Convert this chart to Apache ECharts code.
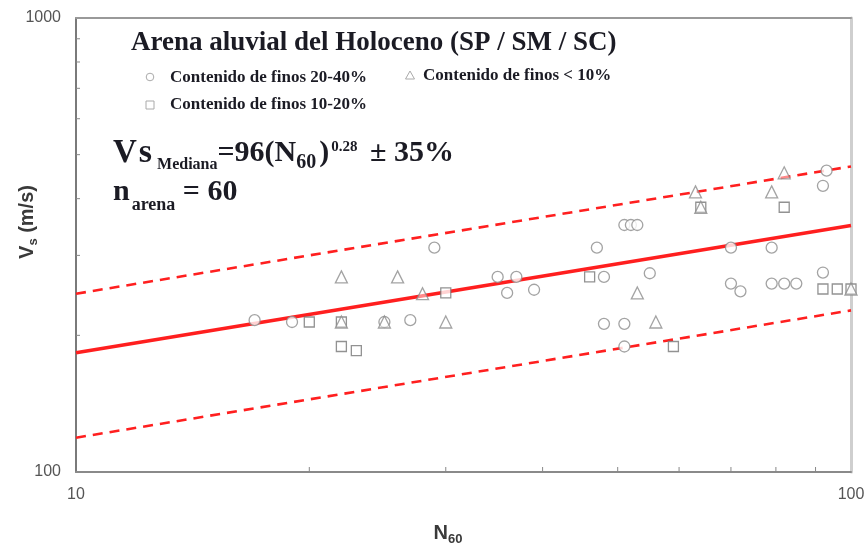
<!DOCTYPE html>
<html><head><meta charset="utf-8">
<script src="https://cdn.jsdelivr.net/npm/echarts@6/dist/echarts.min.js"></script>
<style>html,body{margin:0;padding:0;background:#fff}#c{width:866px;height:551px}</style>
</head><body><div id="c"></div>
<script>
// ---- data ----
const xTickLabels = [10, 100];
const yTickLabels = [100, 1000];
const xMinorTicks = [20, 30, 40, 50, 60, 70, 80, 90];
const yMinorTicks = [200, 300, 400, 500, 600, 700, 800, 900];

const finos20_40 = [[17,216],[19,214],[25,214],[27,216],[29,312],[35,269],[37,269],[36,248],[39,252],
  [47,312],[48,269],[48,212],[51,212],[51,189],[51,350],[52,350],[53,350],[55,274],[70,312],[70,260],
  [72,250],[79,312],[79,260],[82,260],[85,260],[93,461],[92,427],[92,275]];
const finos10_20 = [[20,214],[22,214],[22,189],[23,185],[30,248],[46,269],[59,189],[64,383],[82,383],
  [92,253],[96,253],[100,253]];
const finosMenos10 = [[22,269],[26,269],[25,214],[28,247],[30,214],[53,248],[56,214],[63,414],[79,414],
  [82,456],[100,253],[22,214],[64,383]];

const lineN = [10, 100];
const vsMediana = [183, 349];
const vsUpper = [247, 471];
const vsLower = [119, 227];

const titleText = 'Arena aluvial del Holoceno (SP / SM / SC)';
const legendTexts = ['Contenido de finos 20-40%', 'Contenido de finos < 10%', 'Contenido de finos 10-20%'];

// ---- chart ----
const chart = echarts.init(document.getElementById('c'), null, {renderer: 'canvas'});
const serif = '"Liberation Serif", "Times New Roman", serif';
const sans = '"Liberation Sans", Arial, sans-serif';
const txtCol = '#1b1b24';
const markGray = '#8c8c8c';
const red = '#ff1f1f';

function lineData(vals) { return lineN.map((n, i) => [n, vals[i]]); }

const gridBox = {left: 76, top: 18, right: 15, bottom: 79, containLabel: false, outerBoundsMode: 'none'};

const baseX = {type: 'log', logBase: 10, min: 10, max: 100, splitLine: {show: false}, axisTick: {show: false}, minorTick: {show: false}};
const baseY = {type: 'log', logBase: 10, min: 100, max: 1000, splitLine: {show: false}, axisTick: {show: false}, minorTick: {show: false}};

const nameRich = {
  b: {fontSize: 20, fontWeight: 'bold', color: '#3a3a3a', fontFamily: sans, lineHeight: 26, verticalAlign: 'middle'},
  s: {fontSize: 13, fontWeight: 'bold', color: '#3a3a3a', fontFamily: sans, lineHeight: 13, verticalAlign: 'bottom'}
};

const option = {
  animation: false,
  backgroundColor: '#fff',
  grid: gridBox,
  xAxis: [
    Object.assign({}, baseX, {
      position: 'bottom',
      axisLine: {lineStyle: {color: '#8a8a8a', width: 2}},
      axisLabel: {color: '#555', fontSize: 16, fontFamily: sans, margin: 15,
        formatter: v => xTickLabels.includes(Math.round(v)) ? String(Math.round(v)) : ''},
      name: '{b|N}{s|60}',
      nameLocation: 'middle',
      nameGap: 48,
      nameTextStyle: {padding: [0, 31, 0, 0], rich: nameRich}
    }),
    Object.assign({}, baseX, {
      position: 'top',
      axisLine: {lineStyle: {color: '#999', width: 2}},
      axisLabel: {show: false}
    })
  ],
  yAxis: [
    Object.assign({}, baseY, {
      position: 'left',
      axisLine: {lineStyle: {color: '#7a7a7a', width: 2}},
      axisLabel: {color: '#555', fontSize: 16, fontFamily: sans, margin: 15,
        formatter: v => yTickLabels.includes(Math.round(v)) ? String(Math.round(v)) : ''},
      name: '{b|V}{s|s}{b| (m/s)}',
      nameLocation: 'middle',
      nameGap: 36,
      nameMoveOverlap: false,
      nameRotate: 90,
      nameTextStyle: {padding: [0, 0, 0, 46], rich: nameRich}
    }),
    Object.assign({}, baseY, {
      position: 'right',
      axisLine: {lineStyle: {color: '#cfcfcf', width: 3}},
      axisLabel: {show: false}
    })
  ],
  series: [
    {
      type: 'custom', name: 'xticks', silent: true, z: 1, clip: false,
      data: xMinorTicks.map(v => [v, yTickLabels[0]]),
      renderItem: (params, api) => {
        const p = api.coord([api.value(0), api.value(1)]);
        return {type: 'line', shape: {x1: p[0], y1: p[1], x2: p[0], y2: p[1] - 5}, style: {stroke: '#888', lineWidth: 1}};
      }
    },
    {
      type: 'custom', name: 'yticks', silent: true, z: 1, clip: false,
      data: yMinorTicks.map(v => [xTickLabels[0], v]),
      renderItem: (params, api) => {
        const p = api.coord([api.value(0), api.value(1)]);
        return {type: 'line', shape: {x1: p[0], y1: p[1], x2: p[0] + 4, y2: p[1]}, style: {stroke: '#888', lineWidth: 1}};
      }
    },
    {type: 'line', name: 'mediana', data: lineData(vsMediana), symbol: 'none', z: 2,
      lineStyle: {color: red, width: 3.5}},
    {type: 'line', name: 'sup', data: lineData(vsUpper), symbol: 'none', z: 2,
      lineStyle: {color: red, width: 2.6, type: [10, 7]}},
    {type: 'line', name: 'inf', data: lineData(vsLower), symbol: 'none', z: 2,
      lineStyle: {color: red, width: 2.6, type: [10, 7]}},
    {type: 'scatter', name: legendTexts[0], data: finos20_40, symbol: 'circle', symbolSize: 11, z: 3,
      itemStyle: {color: '#fff', borderColor: markGray, borderWidth: 1.3}},
    {type: 'scatter', name: legendTexts[2], data: finos10_20, symbol: 'rect', symbolSize: 10, z: 3,
      itemStyle: {color: '#fff', borderColor: '#777', borderWidth: 1.3}},
    {type: 'scatter', name: legendTexts[1], data: finosMenos10, symbol: 'triangle', symbolSize: 12, z: 4,
      itemStyle: {color: 'rgba(255,255,255,0.6)', borderColor: markGray, borderWidth: 1.3}}
  ],
  graphic: [
    {type: 'text', x: 131, y: 43.5, z: 10,
      style: {text: titleText, fontSize: 27, fontWeight: 'bold', fontFamily: serif, fill: txtCol, verticalAlign: 'middle', align: 'left'}},
    {type: 'circle', shape: {cx: 150, cy: 77, r: 3.8}, style: {fill: '#fff', stroke: '#aaa', lineWidth: 1}, z: 10},
    {type: 'text', x: 170, y: 78, z: 10,
      style: {text: legendTexts[0], fontSize: 17, fontWeight: 'bold', fontFamily: serif, fill: txtCol, verticalAlign: 'middle', align: 'left'}},
    {type: 'polygon', shape: {points: [[410, 71], [414.5, 79], [405.5, 79]]}, style: {fill: '#fff', stroke: '#aaa', lineWidth: 1}, z: 10},
    {type: 'text', x: 423, y: 76, z: 10,
      style: {text: legendTexts[1], fontSize: 17, fontWeight: 'bold', fontFamily: serif, fill: txtCol, verticalAlign: 'middle', align: 'left'}},
    {type: 'rect', shape: {x: 146, y: 101, width: 8, height: 8}, style: {fill: '#fff', stroke: '#aaa', lineWidth: 1}, z: 10},
    {type: 'text', x: 170, y: 105, z: 10,
      style: {text: legendTexts[2], fontSize: 17, fontWeight: 'bold', fontFamily: serif, fill: txtCol, verticalAlign: 'middle', align: 'left'}},
    {type: 'text', x: 113, y: 133, z: 10,
      style: {text: '{v|V}{vs|s}{sub|Mediana}{m|=96(N}{sub6|60}{m|)}{sup|0.28}{m| ± 35%}', verticalAlign: 'top', align: 'left',
        fill: txtCol,
        rich: {
          v: {fontSize: 33, fontWeight: 'bold', fontFamily: serif, fill: txtCol, lineHeight: 40, verticalAlign: 'middle', padding: [0, 2, 0, 0]},
          vs: {fontSize: 34, fontWeight: 'bold', fontFamily: serif, fill: txtCol, lineHeight: 40, verticalAlign: 'middle', padding: [0, 5, 0, 0]},
          m: {fontSize: 30, fontWeight: 'bold', fontFamily: serif, fill: txtCol, lineHeight: 40, verticalAlign: 'middle'},
          sub: {fontSize: 16, fontWeight: 'bold', fontFamily: serif, fill: txtCol, lineHeight: 16, verticalAlign: 'bottom'},
          sub6: {fontSize: 20, fontWeight: 'bold', fontFamily: serif, fill: txtCol, lineHeight: 20, verticalAlign: 'bottom', padding: [0, 3, 0, 0]},
          sup: {fontSize: 15, fontWeight: 'bold', fontFamily: serif, fill: txtCol, lineHeight: 15, verticalAlign: 'top', padding: [7, 5, 0, 2]}
        }}},
    {type: 'text', x: 113, y: 170, z: 10,
      style: {text: '{m|n}{sub|arena}{m| = 60}', verticalAlign: 'top', align: 'left',
        fill: txtCol,
        rich: {
          m: {fontSize: 30, fontWeight: 'bold', fontFamily: serif, fill: txtCol, lineHeight: 44, verticalAlign: 'middle'},
          sub: {fontSize: 18, fontWeight: 'bold', fontFamily: serif, fill: txtCol, lineHeight: 18, verticalAlign: 'bottom', padding: [0, 0, 0, 2]}
        }}}
  ]
};
chart.setOption(option);
</script>
</body></html>
